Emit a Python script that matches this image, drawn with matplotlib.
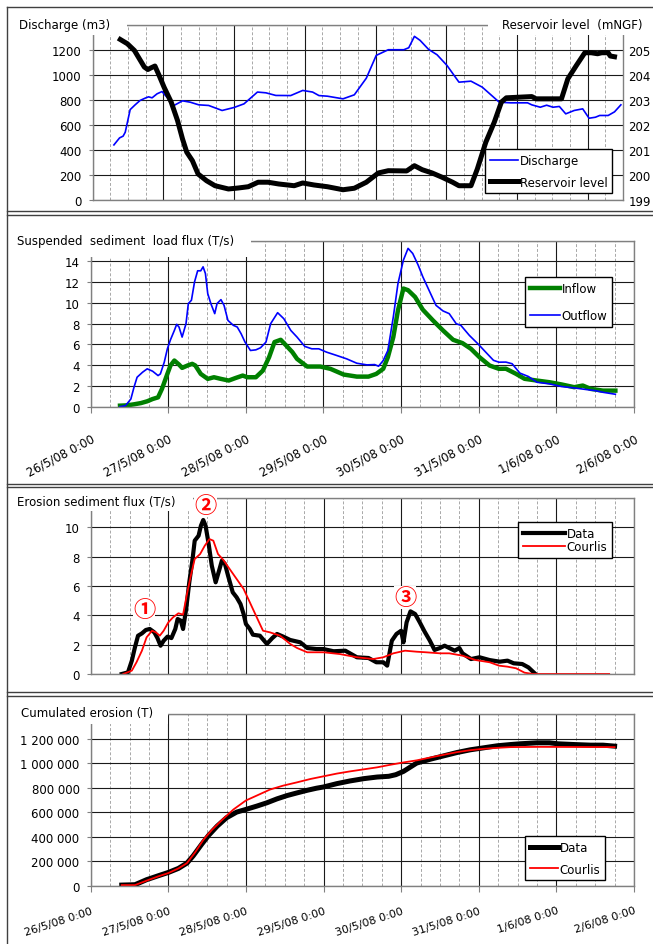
import matplotlib.pyplot as plt
from matplotlib.patches import Rectangle
from matplotlib.lines import Line2D
from matplotlib.ticker import MultipleLocator, FuncFormatter

plt.rcParams['font.family'] = ['DejaVu Sans', 'Noto Sans CJK JP']
plt.rcParams['font.size'] = 8.5

# ---------------- data ----------------
# panel 1 : own time axis (days from the left edge of the plot)
q_t = [0.30, 0.38, 0.43, 0.46, 0.53, 0.60, 0.67, 0.74, 0.79, 0.84, 0.91, 0.98, 1.05, 1.15,
       1.27, 1.38, 1.50, 1.64, 1.83, 2.00, 2.14, 2.33, 2.45, 2.59, 2.80, 2.97, 3.11, 3.20,
       3.32, 3.54, 3.70, 3.87, 4.01, 4.18, 4.40, 4.47, 4.55, 4.63, 4.75, 4.87, 5.01, 5.18,
       5.35, 5.51, 5.75, 5.91, 6.15, 6.21, 6.33, 6.42, 6.51, 6.60, 6.69, 6.81, 6.93, 7.02,
       7.11, 7.17, 7.29, 7.38, 7.47]
discharge = [440, 496, 510, 541, 722, 760, 795, 813, 824, 816, 848, 866, 821, 755,
             792, 781, 760, 755, 715, 739, 768, 862, 856, 835, 834, 875, 862, 834,
             829, 808, 840, 973, 1155, 1200, 1200, 1216, 1307, 1275, 1203, 1160, 1075, 941,
             949, 901, 781, 776, 776, 760, 741, 757, 741, 747, 688, 715, 728, 653,
             661, 675, 675, 704, 760]

lev_t = [0.39, 0.49, 0.59, 0.66, 0.73, 0.78, 0.82, 0.88, 0.94, 1.01, 1.11, 1.20, 1.27, 1.33,
         1.41, 1.49, 1.61, 1.73, 1.92, 2.06, 2.20, 2.34, 2.48, 2.63, 2.85, 2.97, 3.13, 3.32,
         3.54, 3.70, 3.87, 4.04, 4.18, 4.44, 4.55, 4.66, 4.80, 4.94, 5.09, 5.18, 5.35, 5.44,
         5.56, 5.68, 5.78, 5.85, 6.21, 6.27, 6.63, 6.72, 6.84, 6.96, 7.05, 7.14, 7.20, 7.29,
         7.32, 7.38]
level = [205.41, 205.24, 204.97, 204.64, 204.31, 204.21, 204.27, 204.35, 203.97, 203.50,
         202.91, 202.17, 201.44, 200.91, 200.57, 200.04, 199.77, 199.57, 199.44, 199.48,
         199.53, 199.71, 199.71, 199.64, 199.57, 199.68, 199.60, 199.53, 199.41, 199.47,
         199.71, 200.08, 200.17, 200.16, 200.37, 200.21, 200.08, 199.91, 199.71, 199.57,
         199.57, 200.24, 201.31, 202.11, 202.91, 203.08, 203.13, 203.04, 203.04, 203.84,
         204.37, 204.88, 204.88, 204.84, 204.88, 204.88, 204.75, 204.72]

# panels 2-4 : days since 26/5/08 0:00
date_labels = ['26/5/08 0:00', '27/5/08 0:00', '28/5/08 0:00', '29/5/08 0:00',
               '30/5/08 0:00', '31/5/08 0:00', '1/6/08 0:00', '2/6/08 0:00']

out_d = [0.38, 0.45, 0.52, 0.56, 0.60, 0.67, 0.73, 0.80, 0.87, 0.90, 0.95, 0.99, 1.03, 1.08,
         1.11, 1.14, 1.18, 1.23, 1.26, 1.30, 1.34, 1.38, 1.42, 1.45, 1.48, 1.51, 1.55, 1.60,
         1.63, 1.68, 1.72, 1.77, 1.84, 1.89, 1.94, 1.99, 2.06, 2.13, 2.19, 2.26, 2.32, 2.41,
         2.49, 2.58, 2.66, 2.76, 2.85, 2.94, 3.04, 3.17, 3.30, 3.43, 3.56, 3.66, 3.71, 3.77,
         3.83, 3.90, 3.96, 4.03, 4.09, 4.15, 4.22, 4.28, 4.37, 4.45, 4.54, 4.62, 4.71, 4.77,
         4.88, 4.99, 5.09, 5.19, 5.26, 5.35, 5.43, 5.53, 5.64, 5.75, 5.91, 6.07, 6.23, 6.39,
         6.50, 6.60, 6.76]
outflow = [0.0, 0.1, 0.74, 1.87, 2.84, 3.32, 3.65, 3.42, 3.0, 3.16, 4.29, 5.58, 6.45, 7.35,
           7.94, 7.68, 6.71, 8.0, 9.94, 10.26, 12.03, 13.1, 13.1, 13.48, 12.84, 10.9, 9.94, 8.97,
           9.94, 10.32, 9.77, 8.32, 7.84, 7.68, 7.03, 6.23, 5.42, 5.48, 5.68, 6.23, 8.0, 9.06,
           8.48, 7.35, 6.71, 5.81, 5.58, 5.58, 5.26, 4.94, 4.61, 4.19, 4.03, 4.06, 3.9, 4.45,
           5.42, 8.65, 11.87, 14.13, 15.26, 14.77, 13.65, 12.52, 11.06, 9.77, 9.23, 8.97, 8.0, 7.84,
           6.87, 6.06, 5.26, 4.47, 4.29, 4.3, 4.14, 3.24, 2.91, 2.36, 2.2, 1.94, 1.81, 1.65,
           1.55, 1.39, 1.2]

in_d = [0.38, 0.47, 0.56, 0.65, 0.73, 0.80, 0.87, 0.92, 0.99, 1.03, 1.08, 1.14, 1.18, 1.25,
        1.31, 1.35, 1.42, 1.51, 1.59, 1.68, 1.78, 1.87, 1.96, 2.02, 2.13, 2.22, 2.30, 2.37,
        2.45, 2.52, 2.60, 2.66, 2.79, 2.96, 3.09, 3.26, 3.43, 3.58, 3.68, 3.77, 3.83, 3.90,
        3.96, 4.03, 4.09, 4.18, 4.28, 4.41, 4.54, 4.67, 4.79, 4.90, 5.01, 5.14, 5.26, 5.35,
        5.48, 5.59, 5.75, 5.91, 6.07, 6.23, 6.34, 6.44, 6.60, 6.76]
inflow = [0.1, 0.13, 0.23, 0.35, 0.52, 0.74, 0.9, 1.71, 3.16, 3.97, 4.45, 4.06, 3.74, 3.97,
          4.13, 3.97, 3.16, 2.68, 2.84, 2.68, 2.52, 2.77, 3.0, 2.84, 2.84, 3.48, 4.77, 6.23,
          6.45, 5.9, 5.26, 4.61, 3.87, 3.87, 3.65, 3.1, 2.9, 2.9, 3.16, 3.65, 4.77, 6.71,
          9.29, 11.39, 11.23, 10.58, 9.35, 8.32, 7.35, 6.45, 6.13, 5.58, 4.77, 3.97, 3.65, 3.66,
          3.17, 2.69, 2.52, 2.36, 2.14, 1.88, 2.04, 1.72, 1.55, 1.55]

ero_d = [0.40, 0.48, 0.53, 0.57, 0.61, 0.66, 0.71, 0.76, 0.82, 0.86, 0.90, 0.94, 0.99, 1.04,
         1.09, 1.12, 1.16, 1.19, 1.23, 1.27, 1.31, 1.34, 1.39, 1.42, 1.45, 1.48, 1.52, 1.56,
         1.61, 1.66, 1.69, 1.73, 1.77, 1.83, 1.88, 1.93, 1.97, 2.00, 2.05, 2.09, 2.18, 2.27,
         2.34, 2.40, 2.48, 2.57, 2.70, 2.79, 2.91, 3.00, 3.13, 3.28, 3.43, 3.58, 3.68, 3.77,
         3.82, 3.88, 3.94, 4.00, 4.03, 4.07, 4.12, 4.18, 4.24, 4.30, 4.37, 4.43, 4.50, 4.56,
         4.62, 4.69, 4.75, 4.79, 4.90, 5.01, 5.14, 5.27, 5.37, 5.45, 5.56, 5.64, 5.72]
ero_data = [0, 0.11, 0.91, 1.82, 2.61, 2.77, 3.0, 3.07, 2.84, 2.45, 1.93, 2.27, 2.55, 2.45,
            3.07, 3.75, 3.64, 3.07, 4.43, 6.25, 7.73, 9.09, 9.43, 10.11, 10.5, 10.11, 8.86, 7.39,
            6.25, 7.16, 7.73, 7.5, 6.7, 5.57, 5.23, 4.77, 4.09, 3.41, 3.07, 2.68, 2.61, 2.05,
            2.45, 2.73, 2.55, 2.32, 2.16, 1.77, 1.7, 1.7, 1.55, 1.59, 1.14, 1.09, 0.8, 0.8,
            0.57, 2.27, 2.73, 2.95, 2.16, 3.52, 4.27, 4.09, 3.52, 2.91, 2.27, 1.64, 1.77, 1.93,
            1.77, 1.59, 1.77, 1.41, 1.02, 1.14, 0.95, 0.84, 0.91, 0.73, 0.68, 0.45, 0.05]

cou_d = [0.42, 0.53, 0.59, 0.66, 0.72, 0.79, 0.84, 0.89, 0.94, 1.00, 1.06, 1.13, 1.19, 1.24,
         1.29, 1.34, 1.41, 1.47, 1.53, 1.58, 1.64, 1.71, 1.79, 1.88, 1.97, 2.05, 2.14, 2.22,
         2.31, 2.44, 2.57, 2.66, 2.79, 3.00, 3.21, 3.43, 3.64, 3.77, 3.90, 4.05, 4.20, 4.32,
         4.50, 4.62, 4.79, 4.96, 5.14, 5.26, 5.37, 5.48, 5.59, 5.70, 6.68]
ero_courlis = [0, 0.23, 0.8, 1.59, 2.5, 2.95, 2.84, 2.61, 2.95, 3.52, 3.86, 4.14, 4.05, 5.45,
               6.7, 7.84, 8.18, 8.75, 9.2, 9.09, 8.18, 7.77, 7.16, 6.48, 5.8, 4.89, 3.86, 2.95,
               2.84, 2.61, 2.05, 1.77, 1.48, 1.48, 1.36, 1.14, 1.02, 1.14, 1.41, 1.59, 1.52, 1.48,
               1.41, 1.41, 1.25, 0.95, 0.8, 0.57, 0.5, 0.39, 0.09, 0, 0]

cum_d = [0.40, 0.57, 0.72, 0.87, 1.00, 1.13, 1.24, 1.32, 1.43, 1.52, 1.63, 1.75, 1.88, 2.00,
         2.14, 2.27, 2.40, 2.53, 2.66, 2.79, 2.91, 3.00, 3.17, 3.34, 3.52, 3.69, 3.84, 3.93,
         4.03, 4.12, 4.20, 4.38, 4.55, 4.72, 4.89, 5.06, 5.24, 5.41, 5.53, 5.75, 5.91, 6.02,
         6.23, 6.44, 6.60, 6.75]
cum_data_kt = [5, 8, 49, 81, 108, 141, 184, 243, 338, 411, 486, 554, 600, 622,
               649, 676, 708, 735, 757, 778, 795, 805, 832, 854, 873, 886, 892, 905,
               932, 968, 1000, 1032, 1059, 1086, 1108, 1124, 1141, 1151, 1157, 1165, 1165, 1157,
               1151, 1146, 1146, 1138]

ccum_d = [0.40, 0.57, 0.72, 0.87, 1.00, 1.13, 1.24, 1.35, 1.45, 1.56, 1.69, 1.84, 2.00, 2.14,
          2.31, 2.48, 2.66, 2.83, 3.00, 3.17, 3.34, 3.52, 3.69, 3.86, 4.03, 4.20, 4.38, 4.55,
          4.72, 4.89, 5.06, 5.24, 5.41, 5.80, 6.75]
cum_courlis_kt = [5, 5, 41, 76, 103, 141, 184, 276, 373, 454, 535, 622, 695, 735,
                  784, 816, 843, 870, 892, 914, 932, 949, 965, 986, 1005, 1022, 1046, 1068,
                  1089, 1105, 1116, 1124, 1130, 1132, 1130]

# ---------------- figure ----------------
W, H = 653, 945
fig = plt.figure(figsize=(W / 100, H / 100), dpi=100)


def fx(x):
    return x / W


def fy(y):
    return 1 - y / H


def rect(x0, ytop, x1, ybot):
    return [fx(x0), fy(ybot), (x1 - x0) / W, (ybot - ytop) / H]


def top_blank(fmt, top):
    # the top tick label is hidden under the axis title in the original
    return FuncFormatter(lambda v, p: '' if v >= top - 1e-9 else fmt(v))


def style(ax, xmax, ymax, ystep):
    ax.set_xlim(0, xmax)
    ax.set_ylim(0, ymax)
    ax.xaxis.set_major_locator(MultipleLocator(1))
    ax.xaxis.set_minor_locator(MultipleLocator(0.25))
    ax.yaxis.set_major_locator(MultipleLocator(ystep))
    ax.yaxis.set_major_formatter(top_blank(lambda v: f'{v:g}', ymax))
    ax.grid(which='minor', axis='x', color='#a8a8a8', ls=(0, (3, 2)), lw=0.7)
    ax.grid(which='major', axis='x', color='#1a1a1a', lw=0.8)
    ax.grid(which='major', axis='y', color='#1a1a1a', lw=0.8)
    ax.set_axisbelow(True)
    for s in ax.spines.values():
        s.set_color('#808080')
        s.set_linewidth(1.0)
    ax.tick_params(which='minor', length=0)
    ax.tick_params(axis='y', length=3, color='#808080', pad=5)
    ax.tick_params(axis='x', which='major', length=4, color='#808080')


def legend(ax, handles, x_right, y_top, spacing, hl=2.4):
    leg = ax.legend(handles=handles, loc='upper right', bbox_to_anchor=(fx(x_right), fy(y_top)),
                    bbox_transform=fig.transFigure, frameon=True, fancybox=False,
                    edgecolor='black', framealpha=1, handlelength=hl, handletextpad=0.1,
                    borderpad=0.4, labelspacing=spacing, borderaxespad=0)
    leg.get_frame().set_linewidth(1.0)


def cover(x0, ytop, x1, ybot):
    fig.add_artist(Rectangle((fx(x0), fy(ybot)), (x1 - x0) / W, (ybot - ytop) / H,
                             transform=fig.transFigure, facecolor='white',
                             edgecolor='none', zorder=5))


def title(x, y, s, ha='left'):
    fig.text(fx(x), fy(y), s, ha=ha, va='center', fontsize=8.5, zorder=6)


# panel 1
ax1 = fig.add_axes(rect(92.7, 25.7, 623, 201))
style(ax1, 7.5, 1400, 200)
ax1.tick_params(axis='x', labelbottom=False, length=0)
l_q, = ax1.plot(q_t, discharge, color='#0000ff', lw=1.2, label='Discharge')
ax1b = ax1.twinx()
ax1b.set_ylim(199, 206)
ax1b.yaxis.set_major_locator(MultipleLocator(1))
ax1b.yaxis.set_major_formatter(top_blank(lambda v: f'{v:g}', 206))
ax1b.tick_params(axis='y', length=0, pad=4)
for s in ax1b.spines.values():
    s.set_visible(False)
l_lev, = ax1b.plot(lev_t, level, color='black', lw=3.6, label='Reservoir level')
legend(ax1b, [l_q, l_lev], 612, 150, 0.75)

# panel 2
ax2 = fig.add_axes(rect(90.5, 241.7, 634, 407.7))
style(ax2, 7, 16, 2)
l_in, = ax2.plot(in_d, inflow, color='#008000', lw=3.2, label='Inflow')
l_out, = ax2.plot(out_d, outflow, color='#0000ff', lw=1.2, label='Outflow')
legend(ax2, [l_in, l_out], 612, 278, 1.25, hl=2.6)

# panel 3
ax3 = fig.add_axes(rect(90.7, 499, 634, 675))
style(ax3, 7, 12, 2)
ax3.tick_params(axis='x', labelbottom=False, length=0)
l_d3, = ax3.plot(ero_d, ero_data, color='black', lw=3.0, label='Data')
l_c3, = ax3.plot(cou_d, ero_courlis, color='#ff0000', lw=1.3, label='Courlis')
legend(ax3, [l_d3, l_c3], 612, 523, 0.05, hl=3.6)
for d, v, s in [(0.69, 4.43, '\u2460'), (1.48, 11.47, '\u2461'), (4.05, 5.23, '\u2462')]:
    fig.text(d, v, s, transform=ax3.transData, ha='center', va='center', color='#ff0000',
             fontsize=16, fontweight='bold', family=['Noto Sans CJK JP', 'DejaVu Sans'],
             zorder=7, bbox=dict(facecolor='white', edgecolor='none', pad=0))

# panel 4
ax4 = fig.add_axes(rect(90.7, 715, 634, 886.7))
style(ax4, 7, 1400000, 200000)
ax4.yaxis.set_major_formatter(top_blank(lambda v: f'{int(v):,}'.replace(',', ' '), 1400000))
l_d4, = ax4.plot(cum_d, [v * 1000 for v in cum_data_kt], color='black', lw=3.6, label='Data')
l_c4, = ax4.plot(ccum_d, [v * 1000 for v in cum_courlis_kt], color='#ff0000', lw=1.3,
                 label='Courlis')
legend(ax4, [l_d4, l_c4], 605, 837, 0.75)

for ax, rot, pad, size in ((ax2, 28, 14, 8.5), (ax4, 18, 10, 8)):
    ax.set_xticks(range(len(date_labels)))
    ax.set_xticklabels(date_labels, rotation=rot, ha='right', va='top', rotation_mode='anchor',
                       fontsize=size)
    ax.tick_params(axis='x', which='major', pad=pad)

# axis titles sit on white boxes that hide the top of the plot areas
cover(15, 17, 127, 36)
cover(488, 17, 653, 36)
title(19, 26, 'Discharge (m3)')
title(642, 26, 'Reservoir level  (mNGF)', ha='right')
cover(15, 231, 251, 258)
title(17, 241, 'Suspended  sediment  load flux (T/s)')
cover(15, 490, 193, 512)
title(17, 502, 'Erosion sediment flux (T/s)')
cover(15, 704, 168, 725)
title(21, 714, 'Cumulated erosion (T)')

# panel frames
for y in (8, 212, 215.5, 485, 488, 693, 697):
    fig.add_artist(Line2D([fx(7), 1], [fy(y), fy(y)], transform=fig.transFigure,
                          color='#404040', lw=1.0, zorder=8))
fig.add_artist(Line2D([fx(7), fx(7)], [fy(8), 0], transform=fig.transFigure,
                      color='#404040', lw=1.0, zorder=8))

fig.savefig('out.png', dpi=100)
